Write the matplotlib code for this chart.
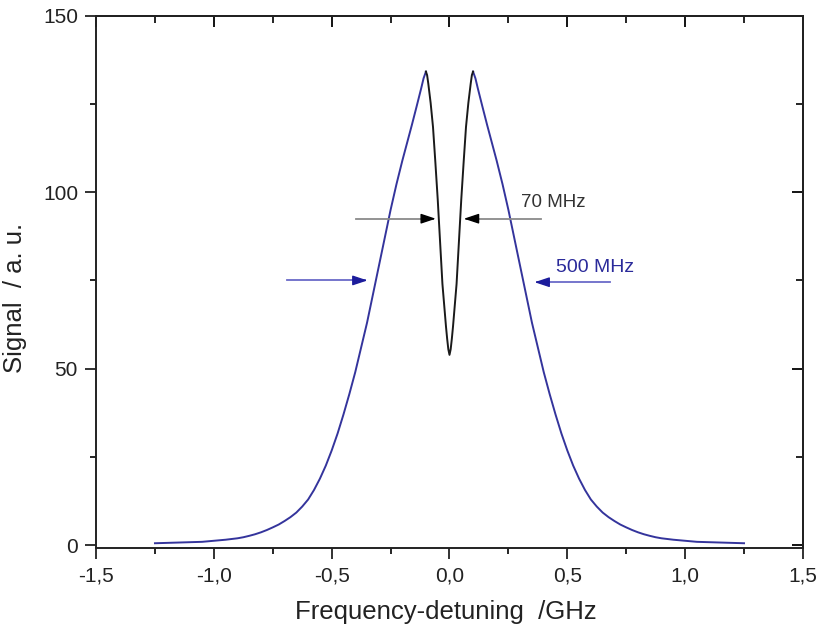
import matplotlib
matplotlib.use("Agg")
import matplotlib.pyplot as plt
from matplotlib.ticker import MultipleLocator, FuncFormatter

plt.rcParams['font.family'] = ['Liberation Sans', 'DejaVu Sans']

# broad (blue) profile, left and right wings
x_left = [-1.25, -1.15, -1.05, -1.00, -0.95, -0.90, -0.875, -0.85, -0.825, -0.80,
          -0.775, -0.75, -0.725, -0.70, -0.675, -0.65, -0.625, -0.60, -0.575, -0.55,
          -0.525, -0.50, -0.475, -0.45, -0.425, -0.40, -0.375, -0.35, -0.325, -0.30,
          -0.275, -0.25, -0.225, -0.20, -0.18, -0.16, -0.14, -0.12, -0.11, -0.10]
y_left = [0.5, 0.7, 0.9, 1.2, 1.5, 1.9, 2.2, 2.6, 3.05, 3.6,
          4.25, 5.0, 5.8, 6.8, 7.9, 9.2, 10.9, 12.9, 15.6, 18.8,
          22.5, 26.8, 31.6, 37.0, 42.8, 49.0, 56.0, 63.0, 71.0, 79.0,
          87.0, 95.0, 102.3, 109.0, 114.0, 119.0, 124.2, 129.5, 132.3, 134.2]
x_right = [0.10, 0.11, 0.12, 0.14, 0.16, 0.18, 0.20, 0.225, 0.25, 0.275,
           0.30, 0.325, 0.35, 0.375, 0.40, 0.425, 0.45, 0.475, 0.50, 0.525,
           0.55, 0.575, 0.60, 0.625, 0.65, 0.675, 0.70, 0.725, 0.75, 0.775,
           0.80, 0.825, 0.85, 0.875, 0.90, 0.95, 1.00, 1.05, 1.15, 1.25]
y_right = [134.2, 132.3, 129.5, 124.2, 119.0, 114.0, 109.0, 102.3, 95.0, 87.0,
           79.0, 71.0, 63.0, 56.0, 49.0, 42.8, 37.0, 31.6, 26.8, 22.5,
           18.8, 15.6, 12.9, 10.9, 9.2, 7.9, 6.8, 5.8, 5.0, 4.25,
           3.6, 3.05, 2.6, 2.2, 1.9, 1.5, 1.2, 0.9, 0.7, 0.5]

# narrow dip (black) in the centre
x_dip = [-0.10, -0.095, -0.09, -0.08, -0.07, -0.06, -0.05, -0.04, -0.03, -0.02,
         -0.015, -0.01, -0.005, 0.0, 0.005, 0.01, 0.015, 0.02, 0.03, 0.04,
         0.05, 0.06, 0.07, 0.08, 0.09, 0.095, 0.10]
y_dip = [134.2, 133.2, 130.8, 125.3, 118.5, 108.5, 98.0, 86.0, 74.0, 66.0,
         62.0, 58.5, 55.5, 53.9, 55.5, 58.5, 62.0, 66.0, 74.0, 86.0,
         98.0, 108.5, 118.5, 125.3, 130.8, 133.2, 134.2]

xticks = [-1.5, -1.0, -0.5, 0.0, 0.5, 1.0, 1.5]
yticks = [0, 50, 100, 150]

blue = '#34349c'

fig = plt.figure(figsize=(8.21, 6.35), dpi=100)
ax = fig.add_axes([0.117, 0.137, 0.861, 0.838])

ax.plot(x_left, y_left, color=blue, lw=1.4)
ax.plot(x_right, y_right, color=blue, lw=1.4)
ax.plot(x_dip, y_dip, color='#1a1a1a', lw=1.4)

ax.set_xlim(-1.5, 1.5)
ax.set_ylim(-0.85, 150)
ax.set_xticks(xticks)
ax.set_yticks(yticks)
ax.xaxis.set_minor_locator(MultipleLocator(0.25))
ax.yaxis.set_minor_locator(MultipleLocator(25))
ax.xaxis.set_major_formatter(FuncFormatter(lambda v, p: ('%.1f' % v).replace('.', ',')))
ax.tick_params(which='major', direction='out', length=8, width=1.3, labelsize=15,
               colors='#222222', pad=5)
ax.tick_params(which='minor', direction='out', length=4, width=1.2)
for s in ax.spines.values():
    s.set_linewidth(1.4)
    s.set_color('#222222')

# mirrored ticks on top / right pointing inwards
top = ax.secondary_xaxis('top')
top.set_xticks(xticks)
top.xaxis.set_minor_locator(MultipleLocator(0.25))
top.tick_params(which='major', direction='in', length=8, width=1.3, labeltop=False)
top.tick_params(which='minor', direction='in', length=5, width=1.2)
right = ax.secondary_yaxis('right')
right.set_yticks(yticks)
right.yaxis.set_minor_locator(MultipleLocator(25))
right.tick_params(which='major', direction='in', length=8, width=1.3, labelright=False)
right.tick_params(which='minor', direction='in', length=5, width=1.2)
top.spines['top'].set_linewidth(1.4)
right.spines['right'].set_linewidth(1.4)

ax.set_xlabel('Frequency-detuning  /GHz', fontsize=18.5, color='#222222')
ax.set_ylabel('Signal  / a. u.', fontsize=18.5, color='#222222')
ax.xaxis.set_label_coords(0.495, -0.098)
ax.yaxis.set_label_coords(-0.097, 0.47)

# 70 MHz arrows (grey shaft, black head)
head = dict(arrowstyle='-|>,head_length=0.9,head_width=0.3', color='black', lw=1.0,
            shrinkA=0, shrinkB=0)
ax.plot([-0.395, -0.07], [92.5, 92.5], color='#8a8a8a', lw=1.3)
ax.annotate('', xy=(-0.058, 92.5), xytext=(-0.11, 92.5), arrowprops=head)
ax.plot([0.07, 0.39], [92.5, 92.5], color='#8a8a8a', lw=1.3)
ax.annotate('', xy=(0.061, 92.5), xytext=(0.11, 92.5), arrowprops=head)
ax.text(0.305, 97.0, '70 MHz', fontsize=13.5, color='#333333', va='center', ha='left')

# 500 MHz arrows (blue)
bhead = dict(arrowstyle='-|>,head_length=0.9,head_width=0.3', color='#1c1c9c', lw=1.0,
             shrinkA=0, shrinkB=0)
ax.plot([-0.69, -0.36], [75, 75], color='#6a6ac8', lw=1.3)
ax.annotate('', xy=(-0.348, 75), xytext=(-0.40, 75), arrowprops=bhead)
ax.plot([0.37, 0.683], [74.5, 74.5], color='#6a6ac8', lw=1.3)
ax.annotate('', xy=(0.361, 74.5), xytext=(0.41, 74.5), arrowprops=bhead)
ax.text(0.45, 78.8, '500 MHz', fontsize=14, color='#2a2a9a', va='center', ha='left')

plt.savefig('out.png', dpi=100)
plt.close()
